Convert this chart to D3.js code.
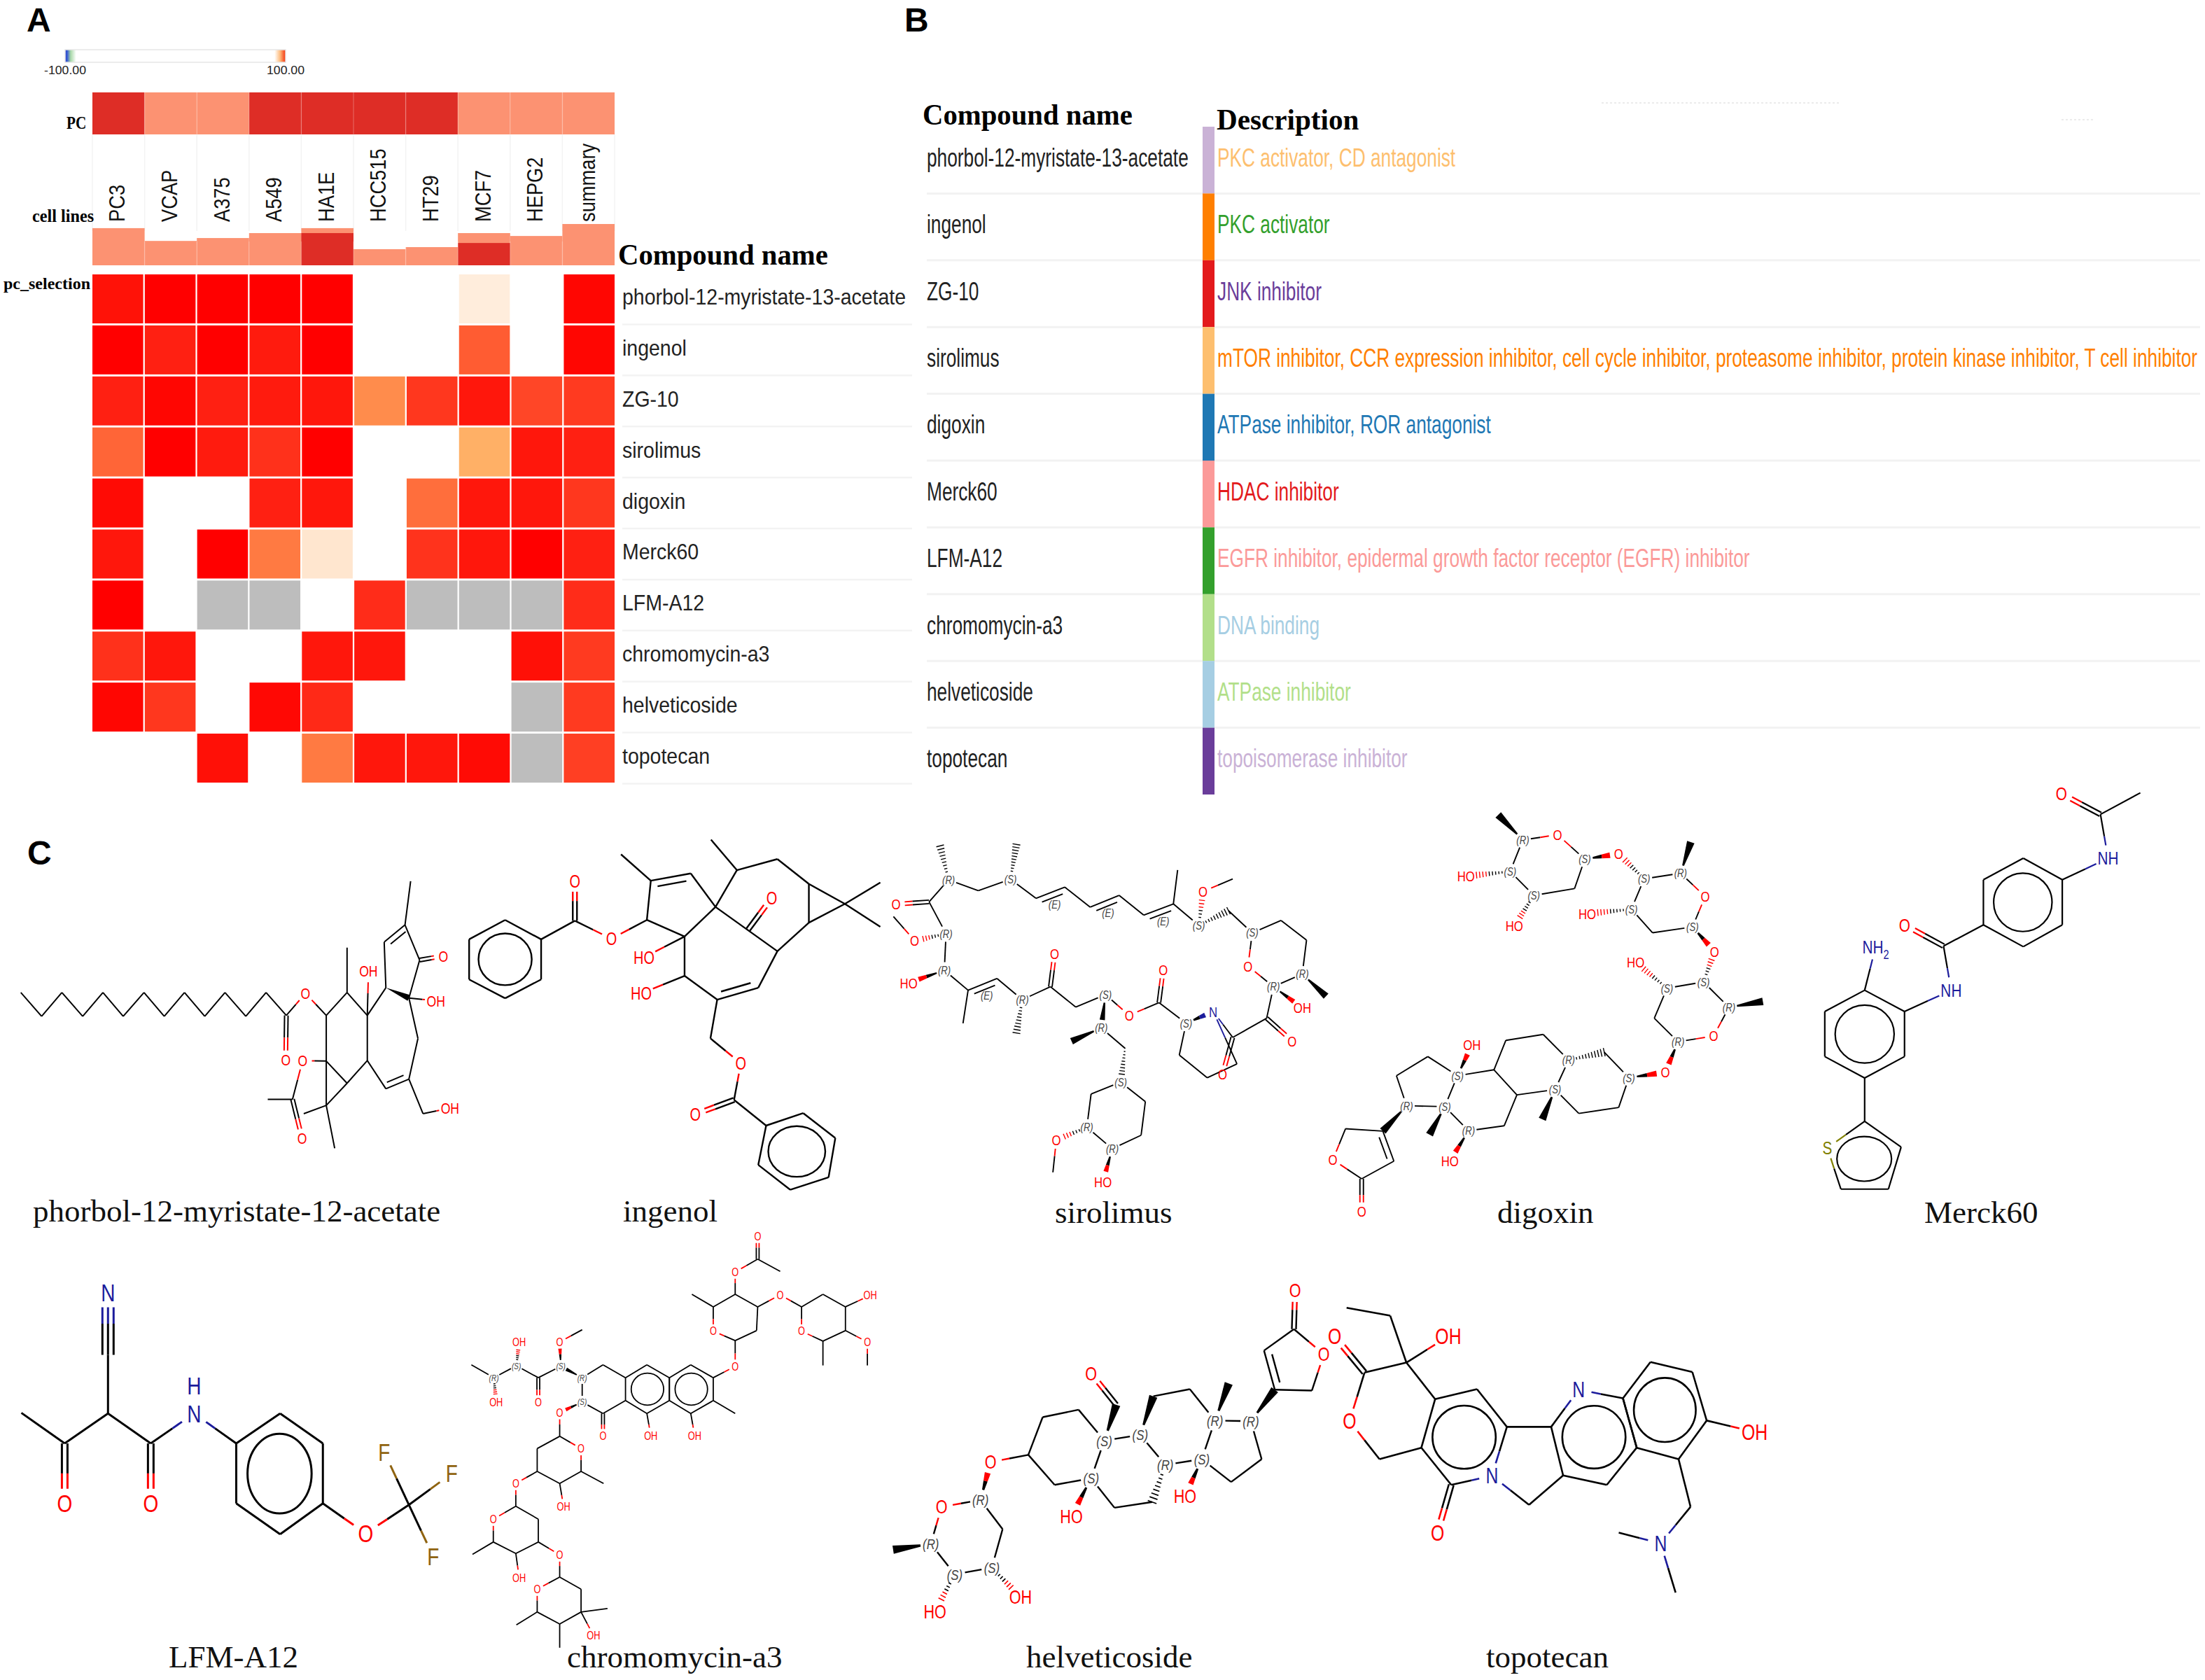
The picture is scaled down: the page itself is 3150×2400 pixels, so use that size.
<!DOCTYPE html>
<html><head><meta charset="utf-8">
<script src="https://cdn.jsdelivr.net/npm/d3@7/dist/d3.min.js"></script>
<style>html,body{margin:0;padding:0;background:#fff}svg{display:block}</style>
</head><body><div id="chart"></div>
<script>
// ---------- DATA ----------
const cellLines = ["PC3","VCAP","A375","A549","HA1E","HCC515","HT29","MCF7","HEPG2","summary"];
const compounds = ["phorbol-12-myristate-13-acetate","ingenol","ZG-10","sirolimus","digoxin","Merck60","LFM-A12","chromomycin-a3","helveticoside","topotecan"];
// connectivity score; 0 = below threshold (blank), null = not tested (grey)
const scorePhorbol  = [99.3,100,100,100,100,0,0,90.1,0,99.8];
const scoreIngenol  = [100,98.5,100,98.8,100,0,0,95.6,0,99.8];
const scoreZG10     = [98.5,99.8,98.5,98.8,99,93.3,97.2,99,96.5,97];
const scoreSirolimus= [95.2,100,98.8,97.5,100,0,0,92,99,98.5];
const scoreDigoxin  = [99.6,0,0,98.5,99,0,94.8,99,99,97.2];
const scoreMerck60  = [99,0,100,94.2,90.3,0,97.4,99,100,98.5];
const scoreLFM      = [100,0,null,null,0,97.8,null,null,null,97.8];
const scoreChromo   = [97.5,99,0,0,99,99,0,0,99.4,97];
const scoreHelvet   = [99.8,97.2,0,99.7,98,0,0,0,null,97];
const scoreTopotecan= [0,0,99.4,0,94.2,99,99,99.6,null,96.8];
const scoreRows = [scorePhorbol,scoreIngenol,scoreZG10,scoreSirolimus,scoreDigoxin,scoreMerck60,scoreLFM,scoreChromo,scoreHelvet,scoreTopotecan];
const pcClass   = [1,0,0,1,1,1,1,0,0,0];
const barTotal  = [90,59,66,78,90,39,44,78,71,100];
const barDark   = [0,0,0,0,78,0,0,54,0,0];
const descriptions = ["PKC activator, CD antagonist","PKC activator","JNK inhibitor","mTOR inhibitor, CCR expression inhibitor, cell cycle inhibitor, proteasome inhibitor, protein kinase inhibitor, T cell inhibitor","ATPase inhibitor, ROR antagonist","HDAC inhibitor","EGFR inhibitor, epidermal growth factor receptor (EGFR) inhibitor","DNA binding","ATPase inhibitor","topoisomerase inhibitor"];
const stripeColors = ["#cab2d6","#ff7f00","#e31a1c","#fdbf6f","#1f78b4","#fb9a99","#33a02c","#b2df8a","#a6cee3","#6a3d9a"];
const descColors   = ["#fdbf6f","#33a02c","#6a3d9a","#ff7f00","#1f78b4","#e31a1c","#fb9a99","#a6cee3","#b2df8a","#cab2d6"];
const legendTicks = [-100,100];

// Structure drawings: chains of atom positions (units of a 1568-wide view),
// tokens between atoms give the bond: = double, ~ ^ offset double, # triple, > wedge, : hash
const phorbolBonds = ["37,652 74,738 110,652 147,738 183,652 219,738 256,652 292,738 328,652 364,738 400,652 437,738 473,652 509,735 543,655 580,735 617,652 653,735 686,635 683,470 ~ 720,408 746,535 = 788,520","509,735 = 508,895","617,652 617,490","653,735 655,575","720,408 730,250","746,535 727,672","686,635 > 727,672 775,682","727,672 743,818 727,965 ~ 686,1000 653,898 653,735","653,898 617,980 580,900 538,898","580,735 580,1060","617,980 580,1060 595,1215","580,1060 540,1090","538,898 520,1038 = 537,1178","520,1038 476,1038","727,965 752,1090 800,1070"];
const phorbolLabels = [[543,655,"O"],[508,895,"O"],[655,575,"OH"],[788,520,"O"],[775,682,"OH"],[538,898,"O"],[537,1178,"O"],[800,1070,"OH"]];
const ingenolBonds = ["962,460 1022,393 = 1022,250","1022,393 1087,458 1150,390 1157,248 ~ 1228,222 1272,343 1217,450 1150,390","1157,248 1104,153","1217,450 1145,525","1217,450 1217,592 1140,655","1217,592 1275,678 ^ 1348,635 1382,503 1272,343 1310,210 1264,100","1310,210 1382,170 1438,260 1502,332 1438,400 1382,503","1438,260 1438,400","1502,332 1565,255","1502,332 1565,415","1330,425 = 1372,310","1275,678 1263,818 1317,908 1305,1040 = 1236,1092","1305,1040 1362,1133"];
const ingenolRings = ["898,390 962,460 962,605 898,673 834,605 834,460","1362,1133 1428,1088 1485,1178 1473,1320 1405,1365 1348,1275"];
const ingenolLabels = [[1022,250,"O"],[1087,458,"O"],[1372,310,"O"],[1145,525,"HO"],[1140,655,"HO"],[1317,908,"O"],[1236,1092,"O"]];
const sirolimusBonds = ["95,325 : 85,210","95,325 130,362 168,323 : 175,205","168,323 198,388 ~ 232,350 262,418 ~ 296,378 325,445 ~ 360,407 365,292","360,407 390,480 : 395,365 430,322","390,480 : 425,430 453,505 487,463 517,530 512,645 > 540,720","453,505 448,618 478,688 512,645","478,688 > 512,760","478,688 470,795 = 500,872","470,795 430,860 = 418,985","430,860 407,772","375,812 > 407,772","375,812 367,920 400,997 435,950 407,772","375,812 343,742 = 348,630","343,742 308,785 280,715 245,757 215,688 = 220,575","215,688 182,732 : 175,845","182,732 152,660 ^ 118,700 112,812","118,700 90,632 > 48,675","90,632 92,508 : 55,532 30,450","92,508 72,400 = 33,408","72,400 95,325","280,715 > 275,828 > 240,873","275,828 303,897 : 298,1012 263,1052 258,1165 : 222,1208 218,1318","258,1165 288,1238 > 277,1350","288,1238 322,1192 327,1078 298,1012"];
const sirolimusLabels = [[95,325,"(R)"],[168,323,"(S)"],[220,410,"(E)"],[283,438,"(E)"],[348,467,"(E)"],[390,480,"(S)"],[395,365,"O"],[453,505,"(S)"],[448,618,"O"],[512,645,"(R)"],[478,688,"(R)"],[512,760,"OH"],[500,872,"O"],[418,985,"O"],[407,772,"N"],[375,812,"(S)"],[348,630,"O"],[308,785,"O"],[280,715,"(S)"],[220,575,"O"],[182,732,"(R)"],[140,718,"(E)"],[90,632,"(R)"],[48,675,"HO"],[92,508,"(R)"],[55,532,"O"],[33,408,"O"],[275,828,"(R)"],[298,1012,"(S)"],[258,1165,"(R)"],[222,1208,"O"],[288,1238,"(R)"],[277,1350,"HO"]];
const digoxinBonds = ["772,190 > 743,105","772,190 813,172 845,255 > 885,237","845,255 833,355 785,378 : 762,482","785,378 757,297 : 705,313","757,297 772,190","915,322 : 885,237","915,322 958,303 > 970,197","958,303 987,382 972,485 925,505 900,425 : 848,440","900,425 915,322","972,485 > 998,568","985,672 : 998,568","985,672 942,693 : 905,605","985,672 1015,758 > 1055,738","1015,758 997,855 955,875 927,795 942,693","955,875 > 940,978","897,997 > 940,978","897,997 885,1098 838,1118 810,1037 > 795,1138","810,1037 826,937 : 868,910 897,997","826,937 796,850 752,870 738,970 695,990 > 712,885","695,990 660,925 623,990 635,1092 680,1095 695,990","680,1095 > 662,1190","680,1095 708,1177 > 686,1280","708,1177 750,1160 765,1055 810,1037","765,1055 738,970","635,1092 > 607,1178 563,1170 548,1275 582,1340 620,1280 ^ 607,1178","582,1340 = 582,1450"];
const digoxinLabels = [[772,190,"(R)"],[813,172,"O"],[845,255,"(S)"],[885,237,"O"],[785,378,"(S)"],[762,482,"HO"],[757,297,"(S)"],[705,313,"HO"],[915,322,"(S)"],[958,303,"(R)"],[987,382,"O"],[972,485,"(S)"],[900,425,"(S)"],[848,440,"HO"],[998,568,"O"],[985,672,"(S)"],[942,693,"(S)"],[905,605,"HO"],[1015,758,"(R)"],[997,855,"O"],[955,875,"(R)"],[940,978,"O"],[897,997,"(S)"],[810,1037,"(S)"],[826,937,"(R)"],[695,990,"(S)"],[712,885,"OH"],[635,1092,"(R)"],[680,1095,"(S)"],[708,1177,"(R)"],[686,1280,"HO"],[548,1275,"O"],[582,1450,"O"]];
const merckBonds = ["1407,33 = 1453,103 1500,30","1453,103 1462,252 1408,325","1315,478 1268,550 = 1222,478","1268,550 1277,700 1222,772","1175,700 1188,552","1175,998 1175,1145"];
const merckRings = ["1408,325 1362,252 1315,325 1315,478 1362,552 1408,478","1222,772 1175,700 1128,772 1128,925 1175,998 1222,925","1175,1145 1218,1232 1203,1375 1147,1375 1131,1235"];
const merckLabels = [[1407,33,"O"],[1462,252,"NH"],[1222,478,"O"],[1277,700,"NH"],[1188,552,"NH2"],[1131,1235,"S"]];
const lfmBonds = ["38,633 115,740 = 115,950","115,740 192,635 192,430 # 192,212","192,635 268,740 = 268,950","268,740 345,635 420,740","574,950 650,1055 727,955 683,770","727,955 803,845","727,955 770,1135"];
const lfmRings = ["420,740 498,635 574,740 574,950 498,1058 420,950"];
const lfmLabels = [[115,950,"O"],[268,950,"O"],[192,212,"N"],[345,635,"N"],[345,538,"H"],[650,1055,"O"],[683,770,"F"],[803,845,"F"],[770,1135,"F"]];
const chromoBonds = ["1347,15 = 1347,95 1387,138","1347,95 1307,140 1307,218 1268,262 1230,218","1268,262 1268,347 1307,380 1345,345 1347,262 1307,218","1347,262 1387,220 1425,262 1463,218 1503,262 1547,222","1503,262 1503,345 1542,385 1542,467","1503,345 1463,382 1463,467","1463,382 1425,347 1425,262","1307,380 1307,470 1268,510","1268,590 1307,635","1228,635 1235,713","1150,635 1157,713","1112,590 1072,635 = 1072,713","1072,635 1035,595 1035,510 1072,465 1112,510","1035,510 > 997,470 > 995,385 1035,342","997,470 957,510 = 957,595","957,510 918,468 : 923,385","918,468 878,510 838,465","878,510 : 882,595","1035,595 > 995,632 995,715 1033,758 1033,838 1073,880","1033,838 995,880 1002,962","995,880 955,838 955,758 995,715","955,838 917,880 917,960 877,1005 877,1085 840,1128","877,1085 917,1125 923,1210","917,1125 957,1085 957,1005 917,960","957,1085 995,1130 995,1208 955,1250 955,1330 918,1375","955,1330 995,1372 995,1455","995,1372 1033,1330 1080,1318","1033,1330 1055,1412","1033,1330 1033,1250 995,1208"];
const chromoRings = ["1268,510 1228,465 1190,510 1190,590 1228,635 1268,590","1190,510 1150,465 1112,510 1112,590 1150,635 1190,590"];
const chromoLabels = [[1347,15,"O"],[1307,140,"O"],[1268,347,"O"],[1387,220,"O"],[1547,222,"OH"],[1542,385,"O"],[1425,347,"O"],[1307,470,"O"],[1235,713,"OH"],[1157,713,"OH"],[1072,713,"O"],[1035,595,"(S)"],[1035,510,"(R)"],[997,470,"(S)"],[995,385,"O"],[957,595,"O"],[918,468,"(S)"],[923,385,"OH"],[878,510,"(R)"],[882,595,"OH"],[995,632,"O"],[1033,758,"O"],[1002,962,"OH"],[917,880,"O"],[877,1005,"O"],[923,1210,"OH"],[995,1130,"O"],[955,1250,"O"],[1055,1412,"OH"]];
const helvetBonds = ["105,1092 > 42,1112","105,1092 123,962 188,938 > 205,805 268,780 292,648 352,622 395,730","268,780 312,885 373,862 395,730 > 415,605 = 373,495","395,730 455,710 > 477,575 538,550 580,660 > 603,530","580,660 640,662 > 680,552 742,555 762,428 712,340 662,415 ^ 680,552","712,340 = 714,205","640,662 658,795 607,875 558,795 580,660","558,795 > 530,925","558,795 497,815 455,710","497,815 : 475,945 412,965 373,862 > 340,995","188,938 225,1040 207,1175 : 255,1278","207,1175 145,1198 : 112,1328","145,1198 105,1092"];
const helvetLabels = [[105,1092,"(R)"],[123,962,"O"],[188,938,"(R)"],[205,805,"O"],[395,730,"(S)"],[373,862,"(S)"],[373,495,"O"],[455,710,"(S)"],[580,660,"(R)"],[640,662,"(R)"],[762,428,"O"],[714,205,"O"],[558,795,"(S)"],[530,925,"HO"],[497,815,"(R)"],[340,995,"HO"],[207,1175,"(S)"],[255,1278,"OH"],[145,1198,"(S)"],[112,1328,"HO"]];
const topoBonds = ["800,265 873,293 900,457 970,365","900,457 830,492 = 780,365","830,492 805,662 855,795 925,755","900,457 948,585","975,885 = 952,1052","1068,682 1142,682","1043,853 1105,955 1162,852","1402,660 1482,700","1355,795 1375,962 1325,1090 1255,1052","1325,1090 1350,1262"];
const topoRings = ["948,585 1018,550 1068,682 1043,853 975,885 925,755","1162,852 1142,682 1188,552 1262,582 1285,755 1235,885","1262,582 1308,455 1378,490 1402,660 1355,795 1285,755"];
const topoLabels = [[970,365,"OH"],[780,365,"O"],[805,662,"O"],[952,1052,"O"],[1043,853,"N"],[1188,552,"N"],[1482,700,"OH"],[1325,1090,"N"]];

const structureNames = ["phorbol-12-myristate-12-acetate","ingenol","sirolimus","digoxin","Merck60","LFM-A12","chromomycin-a3","helveticoside","topotecan"];

// ---------- LAYOUT ----------
const W=3150,H=2400;
const svg=d3.select("#chart").append("svg").attr("width",W).attr("height",H).attr("viewBox",`0 0 ${W} ${H}`);
svg.append("rect").attr("width",W).attr("height",H).attr("fill","#fff");
const SANS="'Liberation Sans',Arial,sans-serif", SERIF="'Liberation Serif','Times New Roman',serif";
function label(g,t,x,y,o={}){
  const rot=o.rot?` rotate(${o.rot})`:"";
  return g.append("text").text(t)
    .attr("transform",`translate(${x},${y})${rot} scale(${o.sx||1},1)`)
    .attr("font-family",o.font||SANS).attr("font-size",o.size||30)
    .attr("font-weight",o.weight||"normal").attr("font-style",o.style||"normal")
    .attr("fill",o.fill||"#000").attr("text-anchor",o.anchor||"start");
}
// panel letters
label(svg,"A",38,45,{size:48,weight:"bold"});
label(svg,"B",1292,45,{size:48,weight:"bold"});
label(svg,"C",39,1235,{size:48,weight:"bold"});

// ---------- PANEL A ----------
const A=svg.append("g");
const x=d3.scaleBand().domain(cellLines).range([132,878]);
const xCell=d3.scaleBand().domain(cellLines).range([132,878]).paddingInner(0.03);
const y=d3.scaleBand().domain(compounds).range([392,1118]).paddingInner(0.04);
const heat=d3.scaleLinear().domain([0,89.9,90,92,93.3,95,97,98.5,99.5,100])
  .range(["#ffffff","#ffffff","#fff0e2","#ffb066","#ff8c4c","#ff6a3a","#ff3a20","#ff2012","#ff0e06","#ff0000"]).clamp(true);
// legend
const defs=svg.append("defs");
const grad=defs.append("linearGradient").attr("id","legendGrad");
[[0,"#2a3fd0"],[0.01,"#3b5fd0"],[0.025,"#a8d8a8"],[0.05,"#ffffff"],[0.95,"#ffffff"],[0.975,"#fdbb7d"],[1,"#f4300c"]]
  .forEach(d=>grad.append("stop").attr("offset",d[0]).attr("stop-color",d[1]));
const legendX=d3.scaleLinear().domain(legendTicks).range([93,408]);
A.append("rect").attr("x",legendX(-100)).attr("y",71).attr("width",legendX(100)-legendX(-100)).attr("height",18)
  .attr("fill","url(#legendGrad)").attr("stroke","#e6e6e6").attr("stroke-width",1.5);
legendTicks.forEach(t=>label(A,t.toFixed(2),legendX(t),106,{size:17,anchor:"middle",fill:"#222",sx:1.04}));
// PC band
const pcColor=d3.scaleOrdinal().domain([0,1]).range(["#fc9272","#de2d26"]);
A.selectAll("rect.pc").data(cellLines).join("rect").attr("class","pc")
  .attr("x",d=>x(d)).attr("y",132).attr("width",x.bandwidth()).attr("height",60)
  .attr("fill",(d,i)=>pcColor(pcClass[i]));
// column guides
A.selectAll("line.guide").data(cellLines.concat(["end"])).join("line").attr("class","guide")
  .attr("x1",(d,i)=>132+i*x.step()).attr("x2",(d,i)=>132+i*x.step()).attr("y1",192).attr("y2",330)
  .attr("stroke","#f3f3f3").attr("stroke-width",1.5);
// stacked bars
const yBar=d3.scaleLinear().domain([0,100]).range([379,320]);
A.selectAll("rect.barL").data(cellLines).join("rect").attr("class","barL")
  .attr("x",d=>x(d)).attr("width",x.bandwidth())
  .attr("y",(d,i)=>yBar(barTotal[i])).attr("height",(d,i)=>yBar(0)-yBar(barTotal[i])).attr("fill","#fc9272");
A.selectAll("rect.barD").data(cellLines).join("rect").attr("class","barD")
  .attr("x",d=>x(d)).attr("width",x.bandwidth())
  .attr("y",(d,i)=>yBar(barDark[i])).attr("height",(d,i)=>yBar(0)-yBar(barDark[i])).attr("fill","#de2d26");
// faint seams over the bands
A.selectAll("line.seam").data(cellLines.slice(1)).join("line").attr("class","seam")
  .attr("x1",d=>x(d)).attr("x2",d=>x(d)).attr("y1",132).attr("y2",192)
  .attr("stroke","#fff").attr("stroke-opacity",0.2).attr("stroke-width",1.5);
A.selectAll("line.seam2").data(cellLines.slice(1)).join("line").attr("class","seam2")
  .attr("x1",d=>x(d)).attr("x2",d=>x(d)).attr("y1",345).attr("y2",379)
  .attr("stroke","#fff").attr("stroke-opacity",0.2).attr("stroke-width",1.5);
// column labels
cellLines.forEach(c=>label(A,c,x(c)+x.bandwidth()/2+9,317,{rot:-90,size:31,sx:0.88,fill:"#111"}));
// row labels and separators
compounds.forEach((c,i)=>{
  A.append("line").attr("x1",889).attr("x2",1303).attr("y1",y(c)+y.bandwidth()+1.5).attr("y2",y(c)+y.bandwidth()+1.5)
    .attr("stroke","#f3f3f3").attr("stroke-width",2.5);
  label(A,c,889,y(c)+y.bandwidth()/2+8,{size:32,sx:0.89,fill:"#222"});
});
// cells
scoreRows.forEach((row,ri)=>{
  row.forEach((v,ci)=>{
    if(v===0) return;
    A.append("rect").attr("x",xCell(cellLines[ci])).attr("y",y(compounds[ri]))
      .attr("width",xCell.bandwidth()).attr("height",y.bandwidth())
      .attr("fill",v===null?"#bdbdbd":heat(v));
  });
});
label(A,"PC",95,184,{size:25,weight:"bold",font:SERIF,sx:0.85});
label(A,"cell lines",46,317,{size:25,weight:"bold",font:SERIF,sx:0.97});
label(A,"pc_selection",5,413,{size:24,weight:"bold",font:SERIF,sx:1.0});
label(A,"Compound name",883,378,{size:42,weight:"bold",font:SERIF,sx:0.97});

// ---------- PANEL B ----------
const B=svg.append("g");
const yB=d3.scaleBand().domain(compounds).range([181,1135]);
label(B,"Compound name",1318,178,{size:42,weight:"bold",font:SERIF,sx:0.97});
label(B,"Description",1738,185,{size:42,weight:"bold",font:SERIF,sx:0.98});
[[2288,2627,147],[2945,2990,171]].forEach(d=>B.append("line").attr("x1",d[0]).attr("x2",d[1]).attr("y1",d[2]).attr("y2",d[2])
  .attr("stroke","#ebebeb").attr("stroke-width",2).attr("stroke-dasharray","3 3"));
compounds.forEach((c,i)=>{
  if(i<compounds.length-1)
  B.append("line").attr("x1",1324).attr("x2",3143).attr("y1",yB(c)+yB.bandwidth()).attr("y2",yB(c)+yB.bandwidth())
    .attr("stroke","#f2f2f2").attr("stroke-width",3);
  B.append("rect").attr("x",1718).attr("width",17).attr("y",yB(c)).attr("height",yB.bandwidth()).attr("fill",stripeColors[i]);
  const cy=yB(c)+yB.bandwidth()/2+9;
  label(B,c,1324,cy,{size:36,sx:0.73,fill:"#222"});
  label(B,descriptions[i],1739,cy,{size:36,sx:0.73,fill:descColors[i]});
});

// ---------- PANEL C ----------
const C=svg.append("g");
const ELEMENT={O:"#ff0000",H:"#ff0000",N:"#1c1c9c",S:"#808000",F:"#8f6310"};
function labelColor(t){
  if(t.startsWith("(")) return "#444";
  if(t==="H") return ELEMENT.N;
  if(t==="OH"||t==="HO") return ELEMENT.O;
  if(t.startsWith("NH")) return ELEMENT.N;
  return ELEMENT[t[0]]||"#000";
}
function drawMolecule(m){
  const g=C.append("g");
  const sx=d3.scaleLinear().domain([0,1568]).range([m.view[0],m.view[0]+m.view[2]]);
  const sy=d3.scaleLinear().domain([0,1568]).range([m.view[1],m.view[1]+m.view[3]]);
  const lab=new Map((m.labels||[]).map(l=>[l[0]+","+l[1],l[2]]));
  const lw=m.lw, fs=m.fs;
  const gapOf=t=>t.startsWith("(")?fs*0.55:(t.length>1?fs*0.72:fs*0.6);
  function seg(a,b,col,w){g.append("line").attr("x1",a[0]).attr("y1",a[1]).attr("x2",b[0]).attr("y2",b[1])
     .attr("stroke",col).attr("stroke-width",w||lw).attr("stroke-linecap","butt");}
  function poly(p,col){g.append("polygon").attr("points",p.map(q=>q.join(",")).join(" ")).attr("fill",col);}
  function bond(ka,type,kb){
    const pa=ka.split(",").map(Number), pb=kb.split(",").map(Number);
    let A=[sx(pa[0]),sy(pa[1])], B=[sx(pb[0]),sy(pb[1])];
    const dx=B[0]-A[0],dy=B[1]-A[1],L=Math.hypot(dx,dy);if(!L)return;
    const ux=dx/L,uy=dy/L,nx=-uy,ny=ux;
    const la=lab.get(ka),lb=lab.get(kb);
    const ca=la&&!la.startsWith("(")?labelColor(la):"#000", cb=lb&&!lb.startsWith("(")?labelColor(lb):"#000";
    const ga=la?gapOf(la):0, gb=lb?gapOf(lb):0;
    const P=t=>[A[0]+ux*t,A[1]+uy*t];
    const s=ga,e=L-gb,mid=L/2;
    const off=(t,d)=>{const q=P(t);return [q[0]+nx*d,q[1]+ny*d];};
    function twoTone(d,st,en){
      if(ca===cb){seg(off(st,d),off(en,d),ca);}
      else{seg(off(st,d),off(mid,d),ca);seg(off(mid,d),off(en,d),cb);}
    }
    if(type==="-"){twoTone(0,s,e);}
    else if(type==="="){const d=m.dbl/2;twoTone(d,s,e);twoTone(-d,s,e);}
    else if(type==="~"||type==="^"){const d=(type==="~"?1:-1)*m.dbl*1.6;twoTone(0,s,e);twoTone(d,Math.max(s,L*0.14),Math.min(e,L*0.86));}
    else if(type==="#"){const d=m.dbl;twoTone(0,s,e);twoTone(d,s,e);twoTone(-d,s,e);}
    else if(type===">"){
      const wmax=m.wedge/2, wAt=t=>wmax*t/L;
      const tri=(t0,t1,col)=>poly([off(t0,wAt(t0)),off(t1,wAt(t1)),off(t1,-wAt(t1)),off(t0,-wAt(t0))],col);
      if(ca===cb)tri(s,e,ca);else{tri(s,mid,ca);tri(mid,e,cb);}
    }
    else if(type===":"){
      const wmax=m.wedge/2, n=Math.max(5,Math.round((e-s)/(m.lw*2.4)));
      for(let i=0;i<=n;i++){const t=s+(e-s)*i/n,h=wmax*t/L+0.6;
        seg(off(t,h),off(t,-h),t<mid?ca:cb,Math.max(1.4,lw*0.7));}
    }
  }
  (m.rings||[]).forEach(r=>{
    const pts=r.split(" ");
    pts.forEach((k,i)=>bond(k,"-",pts[(i+1)%pts.length]));
    const xs=pts.map(k=>sx(+k.split(",")[0])),ys=pts.map(k=>sy(+k.split(",")[1]));
    const xe=d3.extent(xs),ye=d3.extent(ys);
    g.append("ellipse").attr("cx",(xe[0]+xe[1])/2).attr("cy",d3.mean(ys))
      .attr("rx",(xe[1]-xe[0])*0.37).attr("ry",(ye[1]-ye[0])*0.33)
      .attr("fill","none").attr("stroke","#000").attr("stroke-width",lw);
  });
  m.bonds.forEach(ch=>{
    const tk=ch.split(" ");let prev=null,type="-";
    tk.forEach(t=>{
      if(t.includes(",")){if(prev)bond(prev,type,t);prev=t;type="-";}
      else type=t;
    });
  });
  (m.labels||[]).forEach(l=>{
    const t=l[2],st=t.startsWith("(");
    const size=st?fs*0.78:fs;
    const el=g.append("text")
      .attr("transform",`translate(${sx(l[0])},${sy(l[1])+size*0.36}) scale(0.8,1)`)
      .attr("font-family",SANS).attr("font-size",size)
      .attr("font-style",st?"italic":"normal").attr("text-anchor","middle").attr("fill",labelColor(t));
    if(t==="NH2"){el.text("NH");el.append("tspan").attr("dy",size*0.3).attr("font-size",size*0.7).text("2");}
    else el.text(t);
  });
}
const viewTopLeft=[0,1160,1260,620], viewTopRight=[1240,1120,1900,660], viewBotLeft=[0,1760,1260,640], viewBotRight=[1240,1760,1340,640];
[
 {view:viewTopLeft,bonds:phorbolBonds,labels:phorbolLabels,lw:2,fs:22,dbl:5,wedge:9},
 {view:viewTopLeft,bonds:ingenolBonds,rings:ingenolRings,labels:ingenolLabels,lw:2.4,fs:25,dbl:6,wedge:9},
 {view:viewTopRight,bonds:sirolimusBonds,labels:sirolimusLabels,lw:1.9,fs:21,dbl:5,wedge:10},
 {view:viewTopRight,bonds:digoxinBonds,labels:digoxinLabels,lw:1.9,fs:21,dbl:5,wedge:11},
 {view:viewTopRight,bonds:merckBonds,rings:merckRings,labels:merckLabels,lw:2.2,fs:26,dbl:6,wedge:9},
 {view:viewBotLeft,bonds:lfmBonds,rings:lfmRings,labels:lfmLabels,lw:3,fs:35,dbl:8,wedge:9},
 {view:viewBotLeft,bonds:chromoBonds,rings:chromoRings,labels:chromoLabels,lw:1.8,fs:16,dbl:4,wedge:7},
 {view:viewBotRight,bonds:helvetBonds,labels:helvetLabels,lw:2.4,fs:27,dbl:6,wedge:12},
 {view:viewBotRight,bonds:topoBonds,rings:topoRings,labels:topoLabels,lw:2.6,fs:31,dbl:7,wedge:9}
].forEach(drawMolecule);
const nameAnchors=[[47,1745],[890,1745],[1507,1747],[2139,1747],[2749,1747],[241,2382],[810,2382],[1466,2382],[2123,2382]];
structureNames.forEach((n,i)=>label(C,n,nameAnchors[i][0],nameAnchors[i][1],{size:45,font:SERIF,fill:"#111"}));
</script></body></html>
